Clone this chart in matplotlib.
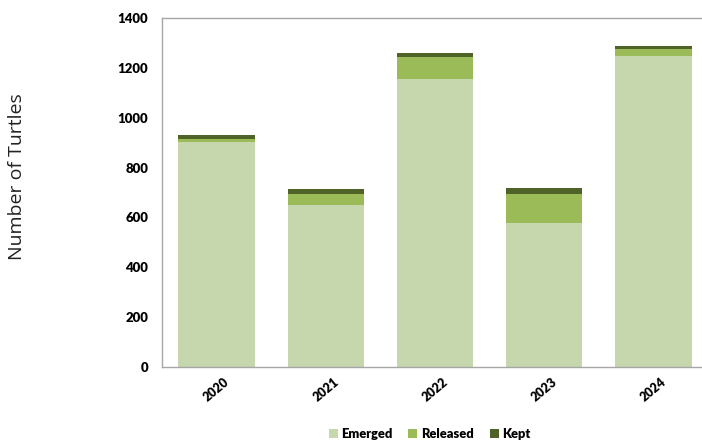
import numpy as np
import matplotlib.pyplot as plt

plt.rcParams['font.family'] = ['Lato', 'DejaVu Sans']

years = ["2020", "2021", "2022", "2023", "2024"]
emerged = np.array([901, 650, 1154, 576, 1247])
released = np.array([13, 44, 91, 118, 27])
kept = np.array([16, 19, 13, 23, 15])

colors = ["#c6d6ad", "#9bbb59", "#4f6228"]

fig = plt.figure(figsize=(7.02, 4.41), dpi=100)
ax = fig.add_axes([0.2308, 0.1678, 0.7778, 0.7914])

x = np.arange(len(years))
w = 0.7
ax.bar(x, emerged, w, color=colors[0], label="Emerged")
ax.bar(x, released, w, bottom=emerged, color=colors[1], label="Released")
ax.bar(x, kept, w, bottom=emerged + released, color=colors[2], label="Kept")

ax.set_xlim(-0.5, 4.5)
ax.set_ylim(0, 1400)
ax.set_yticks(range(0, 1401, 200))
ax.set_xticks(x)
ax.set_xticklabels(years, rotation=40, ha="center", fontweight="heavy", fontsize=9)
for lab in ax.get_yticklabels():
    lab.set_fontweight("heavy")
    lab.set_fontsize(9.5)
ax.tick_params(length=0, pad=10)
ax.tick_params(axis="x", pad=6)
for s in ax.spines.values():
    s.set_color("#a6a6a6")
    s.set_linewidth(1.0)

fig.text(0.024, 0.6, "Number of Turtles", rotation=90, ha="center", va="center",
         fontsize=14, family=["Open Sans", "DejaVu Sans"], color="#222222")

fig.legend(loc="lower center", bbox_to_anchor=(0.612, -0.025), ncol=3, frameon=False,
           prop={"weight": "heavy", "size": 9.3}, handlelength=0.7, handleheight=0.7,
           handletextpad=0.3, columnspacing=1.2)

fig.savefig("out.png", dpi=100)
